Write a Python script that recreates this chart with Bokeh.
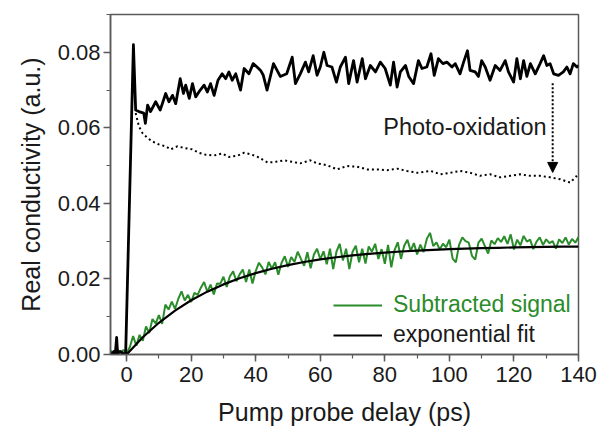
from bokeh.plotting import figure
from bokeh.embed import file_html
from bokeh.resources import INLINE
from bokeh.models import (Range1d, SingleIntervalTicker, PrintfTickFormatter, Legend,
                          LegendItem, Label, Arrow, NormalHead)

FONT = "Liberation Sans"

# Raw (fresh) conductivity trace, black solid
raw_delay = [-5, -4.5, -4, -3.5, -3.1, -2.8, -2, -1, -0.3, 2.1, 2.8, 3.8, 5.3, 5.8, 6.5, 7.4, 9.0,
             10.4, 12.1, 13.1, 14.2, 15.2, 16.6, 17.6, 18.3, 19.4, 20.4, 21.4, 22.8, 24.0, 25.0,
             26.0, 27.1, 28.3, 29.6, 30.7, 31.7, 32.7, 33.8, 35.3, 36.4, 37.9, 39.2, 40.4, 41.5,
             42.3, 43.5, 45.5, 47.6, 49.6, 51.3, 52.3, 53.8, 55.4, 56.4, 57.8, 59.0, 60.0, 61.1,
             62.1, 63.6, 65.0, 66.2, 67.8, 68.8, 70.3, 71.4, 73.0, 74.0, 75.5, 77.1, 78.6, 80.1,
             81.7, 82.7, 83.8, 84.8, 86.4, 87.4, 88.9, 90.4, 91.5, 93.0, 94.3, 95.3, 96.6, 98.0,
             99.2, 100.8, 101.8, 103.3, 104.4, 105.6, 106.4, 108.0, 109.0, 110.0, 111.1, 112.6,
             114.2, 115.7, 117.3, 118.3, 119.9, 120.9, 122.0, 123.0, 124.0, 125.1, 126.6, 128.1,
             129.2, 130.2, 131.2, 132.3, 133.8, 135.3, 136.4, 137.4, 138.4, 139.5, 140]
raw_signal = [0.0005, 0.0002, 0.0008, 0.0003, 0.0045, 0.0003, 0.0008, 0.0002, 0.0003, 0.0820,
              0.0647, 0.0643, 0.0639, 0.0612, 0.0660, 0.0643, 0.0669, 0.0647, 0.0691, 0.0669,
              0.0686, 0.0664, 0.0730, 0.0691, 0.0713, 0.0678, 0.0717, 0.0682, 0.0700, 0.0713,
              0.0695, 0.0717, 0.0686, 0.0726, 0.0743, 0.0730, 0.0748, 0.0726, 0.0743, 0.0700,
              0.0757, 0.0743, 0.0770, 0.0761, 0.0752, 0.0740, 0.0700, 0.0770, 0.0736, 0.0743,
              0.0787, 0.0717, 0.0743, 0.0774, 0.0748, 0.0791, 0.0739, 0.0761, 0.0800, 0.0765,
              0.0761, 0.0721, 0.0761, 0.0787, 0.0717, 0.0778, 0.0721, 0.0783, 0.0730, 0.0765,
              0.0748, 0.0774, 0.0757, 0.0713, 0.0774, 0.0708, 0.0748, 0.0765, 0.0736, 0.0717,
              0.0778, 0.0757, 0.0761, 0.0796, 0.0739, 0.0783, 0.0770, 0.0774, 0.0761, 0.0770,
              0.0743, 0.0774, 0.0804, 0.0752, 0.0748, 0.0736, 0.0778, 0.0761, 0.0726, 0.0765,
              0.0752, 0.0778, 0.0748, 0.0721, 0.0783, 0.0730, 0.0778, 0.0736, 0.0770, 0.0743,
              0.0770, 0.0791, 0.0765, 0.0770, 0.0743, 0.0739, 0.0748, 0.0761, 0.0743, 0.0770,
              0.0761, 0.0765]

# Photo-oxidised trace, black dotted
ox_delay = [2.8, 3.8, 4.9, 6.5, 8.0, 10.0, 12.1, 13.6, 15.7, 17.7, 20.3, 22.4, 24.4, 27.1, 29.6,
            31.7, 34.3, 36.4, 38.5, 40.6, 43.7, 46.2, 48.8, 51.3, 53.8, 56.9, 59.0, 62.1, 65.2,
            68.3, 71.4, 74.5, 77.6, 80.7, 83.8, 86.9, 90.0, 94.1, 97.2, 100.3, 103.3, 106.4,
            109.5, 112.6, 115.7, 118.8, 121.9, 125.0, 128.1, 131.2, 134.3, 137.4, 139.5]
ox_signal = [0.0639, 0.0604, 0.0586, 0.0573, 0.0564, 0.0556, 0.0551, 0.0543, 0.0551, 0.0547,
             0.0543, 0.0534, 0.0529, 0.0527, 0.0532, 0.0523, 0.0526, 0.0534, 0.0530, 0.0523,
             0.0508, 0.0510, 0.0514, 0.0510, 0.0506, 0.0514, 0.0506, 0.0501, 0.0490, 0.0499,
             0.0497, 0.0490, 0.0490, 0.0488, 0.0492, 0.0486, 0.0481, 0.0486, 0.0477, 0.0481,
             0.0486, 0.0481, 0.0473, 0.0477, 0.0469, 0.0473, 0.0477, 0.0473, 0.0473, 0.0469,
             0.0464, 0.0455, 0.0473]

# Subtracted signal, green
sub_delay = list(range(-5, 141))
sub_signal = [0.0010, 0.0002, 0.0015, 0.0004, 0.0012, 0.0003,
              0.0020, 0.0049, 0.0023, 0.0052, 0.0036, 0.0074, 0.0057, 0.0094, 0.0082, 0.0104,
              0.0081, 0.0132, 0.0119, 0.0140, 0.0121, 0.0147, 0.0167, 0.0143, 0.0158, 0.0139,
              0.0163, 0.0158, 0.0177, 0.0192, 0.0166, 0.0185, 0.0159, 0.0188, 0.0187, 0.0206,
              0.0179, 0.0207, 0.0220, 0.0194, 0.0212, 0.0225, 0.0192, 0.0225, 0.0188, 0.0221,
              0.0243, 0.0230, 0.0212, 0.0245, 0.0227, 0.0244, 0.0211, 0.0243, 0.0260, 0.0232,
              0.0258, 0.0245, 0.0272, 0.0253, 0.0235, 0.0271, 0.0228, 0.0264, 0.0280, 0.0252,
              0.0273, 0.0239, 0.0280, 0.0226, 0.0272, 0.0293, 0.0249, 0.0280, 0.0226, 0.0272,
              0.0288, 0.0244, 0.0280, 0.0241, 0.0286, 0.0272, 0.0293, 0.0253, 0.0279, 0.0240,
              0.0290, 0.0231, 0.0276, 0.0297, 0.0253, 0.0288, 0.0304, 0.0274, 0.0295, 0.0265,
              0.0291, 0.0271, 0.0306, 0.0322, 0.0287, 0.0297, 0.0278, 0.0293, 0.0284, 0.0304,
              0.0254, 0.0244, 0.0290, 0.0310, 0.0300, 0.0296, 0.0261, 0.0251, 0.0296, 0.0307,
              0.0287, 0.0267, 0.0302, 0.0292, 0.0308, 0.0298, 0.0313, 0.0293, 0.0318, 0.0278,
              0.0304, 0.0289, 0.0314, 0.0299, 0.0304, 0.0279, 0.0299, 0.0310, 0.0290, 0.0305,
              0.0295, 0.0300, 0.0280, 0.0305, 0.0295, 0.0310, 0.0291, 0.0306, 0.0296, 0.0311]

# Exponential fit, black smooth
fit_delay = [0, 5, 10, 15, 20, 25, 30, 35, 40, 45, 50, 55, 60, 65, 70, 75, 80, 85, 90, 95, 100,
             105, 110, 115, 120, 125, 130, 135, 140]
fit_signal = [0.0, 0.00456, 0.00840, 0.01163, 0.01435, 0.01664, 0.01856, 0.02019, 0.02155,
              0.02270, 0.02366, 0.02448, 0.02516, 0.02574, 0.02622, 0.02663, 0.02697, 0.02726,
              0.02751, 0.02771, 0.02788, 0.02803, 0.02815, 0.02825, 0.02834, 0.02841, 0.02847,
              0.02853, 0.02857]

GREEN = "#2a8c2a"
AXIS = "#5a5a5a"

p = figure(width=597, height=428, output_backend="svg", toolbar_location=None,
           x_range=Range1d(-5, 140), y_range=Range1d(0, 0.09),
           min_border_left=110, min_border_right=19, min_border_top=14, min_border_bottom=71)
p.xgrid.visible = False
p.ygrid.visible = False
p.outline_line_color = AXIS
p.outline_line_width = 1.5
p.background_fill_color = "white"

g = p.line(sub_delay, sub_signal, line_color=GREEN, line_width=2)
f = p.line(fit_delay, fit_signal, line_color="black", line_width=2.2)
p.line(ox_delay, ox_signal, line_color="black", line_width=2, line_dash="2 3")
p.line(raw_delay, raw_signal, line_color="black", line_width=2.8, line_join="round")

for ax in (p.xaxis[0], p.yaxis[0]):
    ax.axis_line_color = AXIS
    ax.axis_line_width = 1.5
    ax.major_tick_line_color = AXIS
    ax.minor_tick_line_color = AXIS
    ax.major_tick_line_width = 1.5
    ax.minor_tick_line_width = 1.2
    ax.major_tick_in = 0
    ax.major_tick_out = 7
    ax.minor_tick_in = 0
    ax.minor_tick_out = 4
    ax.major_label_text_font = FONT
    ax.major_label_text_font_size = "22px"
    ax.major_label_text_color = "#1a1a1a"
    ax.axis_label_text_font = FONT
    ax.axis_label_text_font_size = "25px"
    ax.axis_label_text_font_style = "normal"
    ax.axis_label_text_color = "#1a1a1a"

p.xaxis.ticker = SingleIntervalTicker(interval=20, num_minor_ticks=2)
p.yaxis.ticker = SingleIntervalTicker(interval=0.02, num_minor_ticks=2)
p.yaxis.formatter = PrintfTickFormatter(format="%.2f")
p.xaxis.axis_label = "Pump probe delay (ps)"
p.yaxis.axis_label = "Real conductivity (a.u.)"
p.xaxis.major_label_standoff = 5
p.xaxis.axis_label_standoff = 13
p.yaxis.major_label_standoff = 3
p.yaxis.axis_label_standoff = 10

p.add_layout(Arrow(end=NormalHead(size=10, fill_color="black", line_color="black"),
                   x_start=132, y_start=0.0718, x_end=132, y_end=0.0482,
                   line_color="black", line_width=2, line_dash="2 2"))
p.add_layout(Label(x=79.5, y=0.0603, text="Photo-oxidation", text_font=FONT,
                   text_font_size="23.5px", text_color="#1a1a1a", text_baseline="alphabetic"))

def make_legend(item, loc, color):
    return Legend(items=[item], location=loc, label_text_font=FONT, label_text_font_size="23px",
                  label_text_color=color, glyph_width=49, glyph_height=24, label_height=24,
                  label_standoff=11, padding=0, margin=0, spacing=0, border_line_alpha=0,
                  background_fill_alpha=0)

p.add_layout(make_legend(LegendItem(label="Subtracted signal", renderers=[g]), (223, 36), GREEN))
p.add_layout(make_legend(LegendItem(label="exponential fit", renderers=[f]), (223, 6), "#1a1a1a"))

open("out.html", "w").write(file_html(p, INLINE))
